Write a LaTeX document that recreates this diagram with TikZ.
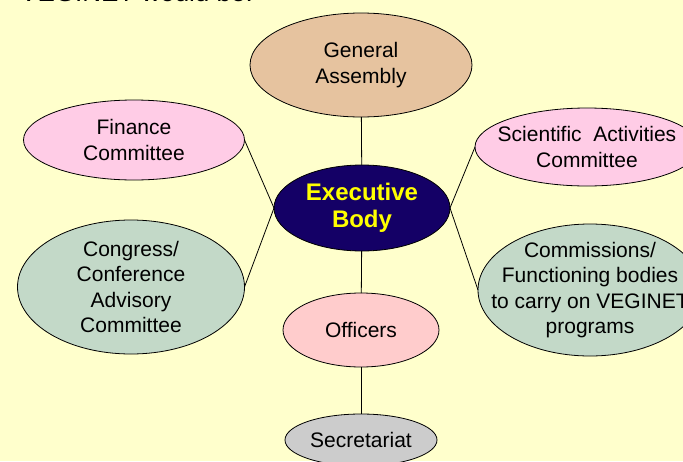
\documentclass[tikz,border=0pt]{standalone}
\usepackage{fontspec}
\setmainfont{Liberation Sans}
\usetikzlibrary{shapes.geometric}
\definecolor{bgcolor}{HTML}{FFFFCC}
\definecolor{tancolor}{HTML}{E6C39F}
\definecolor{pinkcolor}{HTML}{FFCCE6}
\definecolor{rosecolor}{HTML}{FFCCCC}
\definecolor{sagecolor}{HTML}{C3D9C8}
\definecolor{greycolor}{HTML}{CCCCCC}
\definecolor{navycolor}{HTML}{140066}
\definecolor{goldcolor}{HTML}{FFFF00}
\tikzstyle{oval} = [ellipse, draw=black, line width=0.8pt, inner sep=0pt, outer sep=0pt]
\tikzstyle{caption} = [align=center, font=\fontsize{21}{25.5}\selectfont, inner sep=0pt]
\tikzstyle{line} = [line width=0.8pt]

\begin{document}
\begin{tikzpicture}[x=1pt, y=-1pt, node distance=228pt]

		\useasboundingbox (0,0) rectangle (683,461);
		\clip (0,0) rectangle (683,461);
		\fill[bgcolor] (0,0) rectangle (683,461);
		\node[anchor=base west, inner sep=0pt, font=\fontsize{26}{30}\selectfont] (title) at (20,1.5) {VEGINET would be:};

		\node (exec) [oval, fill=navycolor, minimum width=176pt, minimum height=86pt, label={[caption, font=\bfseries\fontsize{24}{27}\selectfont, text=goldcolor]center:{Executive\\Body}}] at (362,208) {};
		\node (general) [oval, fill=tancolor, minimum width=222pt, minimum height=104pt, above of=exec, node distance=143pt, xshift=-1pt, label={[caption]center:{General\\Assembly}}] {};
		\node (finance) [oval, fill=pinkcolor, minimum width=221pt, minimum height=80pt, left of=exec, yshift=68pt, label={[caption]center:{Finance\\Committee}}] {};
		\node (congress) [oval, fill=sagecolor, minimum width=227pt, minimum height=134pt, left of=exec, xshift=-3pt, yshift=-79pt, label={[caption]center:{Congress/\\Conference\\Advisory\\Committee}}] {};
		\node (science) [oval, fill=pinkcolor, minimum width=224pt, minimum height=78pt, right of=exec, xshift=-3pt, yshift=61pt, label={[caption]center:{Scientific\ \ Activities\\Committee}}] {};
		\node (commission) [oval, fill=sagecolor, minimum width=224pt, minimum height=132pt, right of=exec, yshift=-82pt, label={[caption]center:{Commissions/\\Functioning bodies\\to carry on VEGINET\\programs}}] {};
		\node (officers) [oval, fill=rosecolor, minimum width=156pt, minimum height=74pt, below of=exec, node distance=122pt, xshift=-1pt, label={[caption]center:Officers}] {};
		\node (secretariat) [oval, fill=greycolor, minimum width=152pt, minimum height=52pt, below of=officers, node distance=110pt, label={[caption]center:Secretariat}] {};

		\draw [line] (general) -- (exec);
		\draw [line] (exec) -- (officers);
		\draw [line] (officers) -- (secretariat);
		\draw [line] (finance.east) -- (exec.west);
		\draw [line] (congress.east) -- (exec.west);
		\draw [line] (science.west) -- (exec.east);
		\draw [line] (commission.west) -- (exec.east);

		\end{tikzpicture}
\end{document}
